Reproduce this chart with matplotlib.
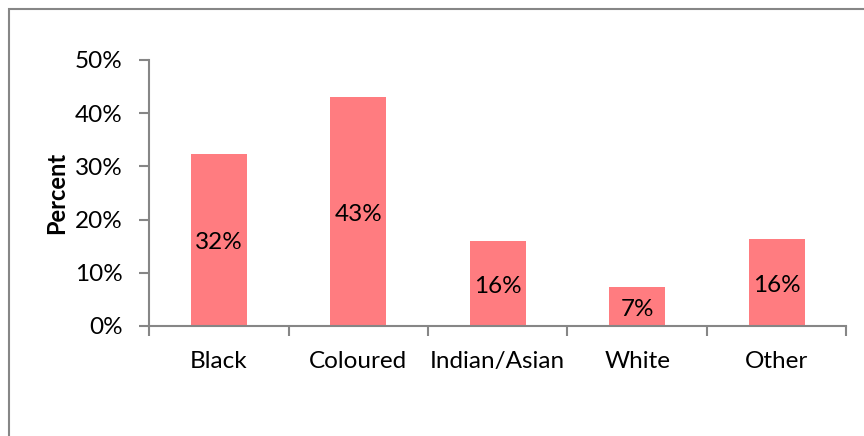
import matplotlib
matplotlib.use("Agg")
import matplotlib.pyplot as plt
from matplotlib.patches import Rectangle
from matplotlib.ticker import MultipleLocator, PercentFormatter

groups = ["Black", "Coloured", "Indian/Asian", "White", "Other"]
percent = [32.4, 43.0, 15.9, 7.4, 16.4]

bar_color = "#FF7C80"
axis_color = "#868686"

plt.rcParams["font.family"] = ["Lato", "DejaVu Sans"]

fig = plt.figure(figsize=(8.64, 4.36), dpi=100)
ax = fig.add_axes([0.1725, 0.2523, 0.8072, 0.6101])

x = range(len(groups))
bars = ax.bar(x, percent, width=0.4, color=bar_color, edgecolor="none")

# value labels in the middle of each bar
for b, v in zip(bars, percent):
    ax.annotate(f"{v:.0f}%", (b.get_x() + b.get_width() / 2, v / 2),
                xytext=(0, -2), textcoords="offset points",
                ha="center", va="center", fontsize=17.5, color="black")

ax.set_xlim(-0.5, len(groups) - 0.5)
ax.set_ylim(0, 50)
ax.yaxis.set_major_locator(MultipleLocator(10))
ax.yaxis.set_major_formatter(PercentFormatter(decimals=0))

ax.set_xticks(list(x))
ax.set_xticklabels(groups, fontsize=17.5)
ax.set_xticks([i - 0.5 for i in range(len(groups) + 1)], minor=True)
ax.tick_params(axis="x", which="major", length=0, pad=18)
ax.tick_params(axis="x", which="minor", length=7, width=1.5, color=axis_color)
ax.tick_params(axis="y", length=7, width=1.5, color=axis_color, labelsize=17.5, pad=12)

for side in ["top", "right"]:
    ax.spines[side].set_visible(False)
for side in ["left", "bottom"]:
    ax.spines[side].set_color(axis_color)
    ax.spines[side].set_linewidth(1.5)

ax.set_ylabel("Percent", fontsize=17, fontweight="bold", labelpad=5)

# chart area border
fig.patches.append(Rectangle((9 / 864, -0.1), 1.2, (436 - 9) / 436 + 0.1,
                             transform=fig.transFigure, fill=False,
                             edgecolor=axis_color, linewidth=1.5))

fig.savefig("out.png", dpi=100)
